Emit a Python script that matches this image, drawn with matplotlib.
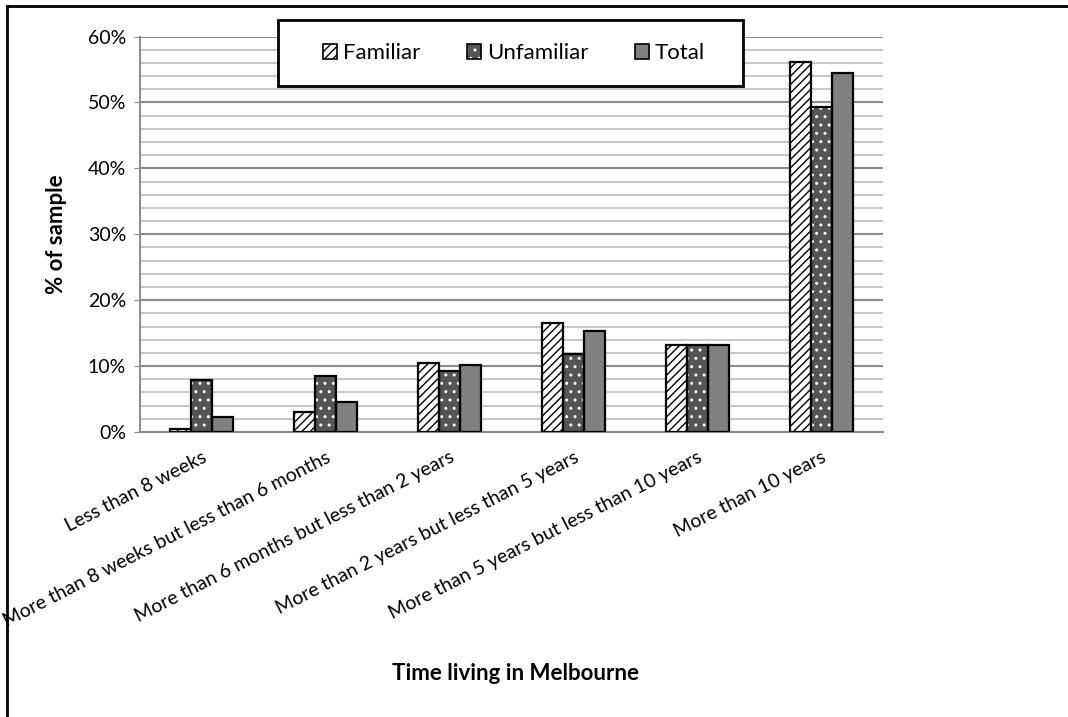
import numpy as np
import matplotlib
matplotlib.use("Agg")
import matplotlib.pyplot as plt
from matplotlib.patches import Patch, Rectangle
from matplotlib.lines import Line2D
from matplotlib.legend_handler import HandlerTuple
from matplotlib.ticker import MultipleLocator, PercentFormatter

plt.rcParams['font.family'] = ['Lato', 'DejaVu Sans']

categories = [
    "Less than 8 weeks",
    "More than 8 weeks but less than 6 months",
    "More than 6 months but less than 2 years",
    "More than 2 years but less than 5 years",
    "More than 5 years but less than 10 years",
    "More than 10 years",
]
familiar = [0.5, 3.1, 10.5, 16.5, 13.2, 56.2]
unfamiliar = [7.9, 8.5, 9.2, 11.8, 13.2, 49.3]
total = [2.3, 4.5, 10.1, 15.3, 13.2, 54.4]

fig = plt.figure(figsize=(10.68, 7.17), dpi=100)
ax = fig.add_axes([0.131, 0.3975, 0.696, 0.5515])

x = np.arange(len(categories))
w = 0.17

# fills with hatching (hatch takes the edge colour), then black outlines on top
ax.bar(x - w, familiar, w, color="white", edgecolor="black", hatch="////", linewidth=0, zorder=3)
ax.bar(x, unfamiliar, w, color="#555555", edgecolor="white", hatch="..", linewidth=0, zorder=3)
ax.bar(x + w, total, w, color="#808080", linewidth=0, zorder=3)
for off, vals in [(-w, familiar), (0, unfamiliar), (w, total)]:
    ax.bar(x + off, vals, w, facecolor="none", edgecolor="black", linewidth=1.6, zorder=4)

ax.set_xlim(-0.5, len(categories) - 0.5)
ax.set_ylim(0, 60)
ax.yaxis.set_major_locator(MultipleLocator(10))
ax.yaxis.set_minor_locator(MultipleLocator(2))
ax.yaxis.set_major_formatter(PercentFormatter(decimals=0))
ax.grid(axis="y", which="major", color="#8c8c8c", linewidth=1.5, zorder=0)
ax.grid(axis="y", which="minor", color="#c8c8c8", linewidth=1.5, zorder=0)
ax.set_axisbelow(True)
ax.tick_params(axis="y", which="major", length=4, color="#8c8c8c", pad=6, labelsize=14)
ax.tick_params(axis="y", which="minor", length=0)
ax.tick_params(axis="x", length=0, pad=12)
for s in ["top", "right"]:
    ax.spines[s].set_visible(False)
ax.spines["left"].set_color("#8c8c8c")
ax.spines["bottom"].set_color("#8c8c8c")
ax.spines["left"].set_linewidth(1.5)
ax.spines["bottom"].set_linewidth(1.5)

ax.set_xticks(x)
ax.set_xticklabels(categories, rotation=27, ha="right", va="top",
                   rotation_mode="anchor", fontsize=14)

ax.set_ylabel("% of sample", fontsize=16, fontweight="bold", labelpad=15)
fig.text(0.483, 0.061, "Time living in Melbourne", fontsize=16,
         fontweight="bold", ha="center", va="center")

# legend box
fig.add_artist(Rectangle((278 / 1068, 1 - 86 / 717), 465 / 1068, 66 / 717,
                         transform=fig.transFigure, facecolor="white",
                         edgecolor="black", linewidth=2, zorder=5))
h_fam = (Patch(facecolor="white", edgecolor="black", hatch="////", linewidth=0),
         Patch(facecolor="none", edgecolor="black", linewidth=1.2))
h_unf = (Patch(facecolor="#555555", edgecolor="white", hatch="..", linewidth=0),
         Patch(facecolor="none", edgecolor="black", linewidth=1.2))
h_tot = Patch(facecolor="#808080", edgecolor="black", linewidth=1.2)
leg = fig.legend([h_fam, h_unf, h_tot], ["Familiar", "Unfamiliar", "Total"],
                 loc="center", bbox_to_anchor=(514 / 1068, 1 - 53 / 717),
                 ncol=3, frameon=False, fontsize=16, handlelength=0.65,
                 handleheight=0.65, handletextpad=0.25, columnspacing=2.1,
                 handler_map={tuple: HandlerTuple(ndivide=1)})
leg.set_zorder(6)

# outer frame lines
fig.add_artist(Line2D([7 / 1068, 7 / 1068], [0, 1 - 6 / 717], color="black",
                      linewidth=2, transform=fig.transFigure))
fig.add_artist(Line2D([7 / 1068, 1], [1 - 6 / 717, 1 - 6 / 717], color="black",
                      linewidth=2, transform=fig.transFigure))

fig.savefig("out.png", dpi=100)
